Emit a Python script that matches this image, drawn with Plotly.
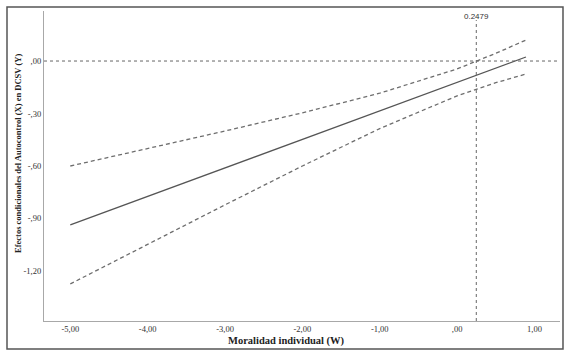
import plotly.graph_objects as go

# Moderator values (W) and read-off values
w_values = [-5.0, -4.0, -3.0, -2.0, -1.0, 0.0, 0.2479, 0.5, 0.89]
effect = [-0.937, -0.774, -0.611, -0.448, -0.285, -0.122, -0.081, -0.040, 0.023]
ci_upper = [-0.600, -0.501, -0.400, -0.296, -0.184, -0.045, 0.000, 0.044, 0.120]
ci_lower = [-1.274, -1.047, -0.822, -0.600, -0.386, -0.199, -0.160, -0.124, -0.074]

jn_point = 0.2479
jn_label = "0.2479"

x_tickvals = [-5, -4, -3, -2, -1, 0, 1]
x_ticktext = ["-5,00", "-4,00", "-3,00", "-2,00", "-1,00", ",00", "1,00"]
y_tickvals = [0, -0.3, -0.6, -0.9, -1.2]
y_ticktext = [",00", "-,30", "-,60", "-,90", "-1,20"]

x_title = "Moralidad individual (W)"
y_title = "Efectos condicionales del Autocontrol (X) en DCSV (Y)"

serif = "Liberation Serif, Times New Roman, serif"
sans = "Liberation Sans, Arial, sans-serif"

fig = go.Figure()
fig.add_trace(go.Scatter(x=w_values, y=ci_upper, mode="lines",
                         line=dict(color="#6e6e6e", width=1.3, dash="4px,3px"),
                         showlegend=False, hoverinfo="skip"))
fig.add_trace(go.Scatter(x=w_values, y=effect, mode="lines",
                         line=dict(color="#555555", width=1.3),
                         showlegend=False))
fig.add_trace(go.Scatter(x=w_values, y=ci_lower, mode="lines",
                         line=dict(color="#6e6e6e", width=1.3, dash="4px,3px"),
                         showlegend=False, hoverinfo="skip"))

shapes = [
    # horizontal reference line at 0
    dict(type="line", xref="paper", yref="y", x0=0, x1=1, y0=0, y1=0,
         line=dict(color="#666666", width=1, dash="dot")),
    # vertical Johnson-Neyman line
    dict(type="line", xref="x", yref="y", x0=jn_point, x1=jn_point, y0=-1.486, y1=0.234,
         line=dict(color="#666666", width=1, dash="dot")),
    # outer frame
    dict(type="rect", xref="paper", yref="paper", x0=-0.0717, x1=1.0058,
         y0=-0.0903, y1=1.0129, line=dict(color="#555555", width=1.5)),
]

annotations = [
    dict(x=jn_point, y=0.257, xref="x", yref="y", text=jn_label, showarrow=False,
         xanchor="center", yanchor="middle",
         font=dict(family=sans, size=8, color="#333333")),
    dict(x=0.469, y=-0.0645, xref="paper", yref="paper", text="<b>" + x_title + "</b>",
         showarrow=False, xanchor="center", yanchor="middle",
         font=dict(family=serif, size=10.5, color="#222222")),
    dict(x=-0.0504, y=0.542, xref="paper", yref="paper", text="<b>" + y_title + "</b>",
         textangle=-90, showarrow=False, xanchor="center", yanchor="middle",
         font=dict(family=serif, size=8.5, color="#222222")),
]

fig.update_layout(
    width=571, height=358,
    margin=dict(l=44, r=11, t=11, b=37, autoexpand=False),
    paper_bgcolor="white", plot_bgcolor="white",
    shapes=shapes, annotations=annotations,
    xaxis=dict(range=[-5.34, 1.33], tickvals=x_tickvals, ticktext=x_ticktext,
               showgrid=False, zeroline=False, showline=True, linecolor="#a8a8a8",
               linewidth=1.2, ticks="", automargin=False,
               tickfont=dict(family=serif, size=8.5, color="#333333")),
    yaxis=dict(range=[-1.486, 0.286], tickvals=y_tickvals, ticktext=y_ticktext,
               showgrid=False, zeroline=False, showline=True, linecolor="#a8a8a8",
               linewidth=1.2, ticks="", automargin=False,
               tickfont=dict(family=serif, size=8.5, color="#333333")),
)

fig.write_html("out.html", config={"displayModeBar": False},
               post_script="document.body.style.margin='0';document.body.style.overflow='hidden';")
